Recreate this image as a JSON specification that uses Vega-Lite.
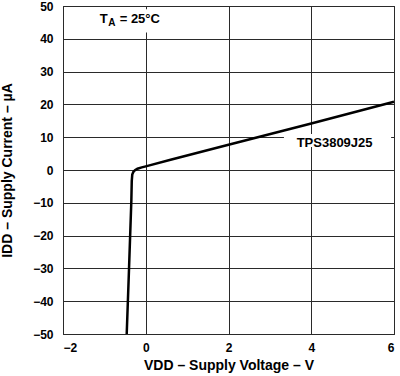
{
  "$schema": "https://vega.github.io/schema/vega-lite/v6.json",
  "width": 331,
  "height": 328,
  "autosize": "none",
  "padding": {"left": 63, "top": 6, "right": 6, "bottom": 42},
  "background": "#ffffff",
  "config": {
    "view": {"stroke": "#000000", "strokeWidth": 1},
    "font": "Liberation Sans",
    "axis": {
      "labelFont": "Liberation Sans",
      "labelFontWeight": "bold",
      "labelFontSize": 12,
      "labelColor": "#000000",
      "labelOverlap": false,
      "titleFont": "Liberation Sans",
      "titleFontWeight": "bold",
      "titleFontSize": 14,
      "titleColor": "#000000",
      "ticks": false,
      "domain": false,
      "gridColor": "#2a2a2a",
      "gridOpacity": 1,
      "gridWidth": 1
    }
  },
  "datasets": {
    "curve": [
      {"x": -0.46, "y": -50},
      {"x": -0.404, "y": -30},
      {"x": -0.348, "y": -9.3},
      {"x": -0.338, "y": -3.3},
      {"x": -0.326, "y": -1.4},
      {"x": -0.3, "y": -0.6},
      {"x": -0.26, "y": -0.05},
      {"x": -0.2, "y": 0.4},
      {"x": -0.097, "y": 0.8},
      {"x": 0, "y": 1.1},
      {"x": 0.6, "y": 3.1},
      {"x": 2, "y": 7.7},
      {"x": 4, "y": 14.2},
      {"x": 6, "y": 20.8}
    ],
    "box": [
      {"x": 3.34, "x2": 5.93, "y": 7, "y2": 11},
      {"x": -1.2, "x2": 0.45, "y": 41.9, "y2": 49.0}
    ],
    "labels": [
      {"x": 3.647, "y": 6.9, "label": "TPS3809J25"},
      {"x": -1.11, "y": 44.7, "label": "T"},
      {"x": -0.63, "y": 44.7, "label": "= 25°C"}
    ],
    "subs": [
      {"x": -0.905, "y": 43.8, "label": "A"}
    ]
  },
  "encoding": {
    "x": {
      "field": "x", "type": "quantitative",
      "scale": {"domain": [-2, 6], "nice": false, "zero": false},
      "axis": {
        "values": [-2, 0, 2, 4, 6],
        "title": "VDD – Supply Voltage – V",
        "labelPadding": 8,
        "titlePadding": 5
      }
    },
    "y": {
      "field": "y", "type": "quantitative",
      "scale": {"domain": [-50, 50], "nice": false, "zero": false},
      "axis": {
        "values": [-50, -40, -30, -20, -10, 0, 10, 20, 30, 40, 50],
        "tickCount": 11,
        "title": "IDD – Supply Current – µA",
        "labelPadding": 10,
        "titlePadding": 18
      }
    }
  },
  "layer": [
    {
      "data": {"name": "box"},
      "mark": {"type": "rect", "fill": "#ffffff"},
      "encoding": {
        "x2": {"field": "x2"},
        "y2": {"field": "y2"}
      }
    },
    {
      "data": {"name": "curve"},
      "mark": {"type": "line", "color": "#000000", "strokeWidth": 2.5},
      "encoding": {}
    },
    {
      "data": {"name": "labels"},
      "mark": {"type": "text", "fontWeight": "bold", "fontSize": 13, "font": "Liberation Sans", "color": "#000000", "align": "left", "baseline": "alphabetic"},
      "encoding": {
        "text": {"field": "label"}
      }
    },
    {
      "data": {"name": "subs"},
      "mark": {"type": "text", "fontWeight": "bold", "fontSize": 10, "font": "Liberation Sans", "color": "#000000", "align": "left", "baseline": "alphabetic"},
      "encoding": {
        "text": {"field": "label"}
      }
    }
  ]
}
